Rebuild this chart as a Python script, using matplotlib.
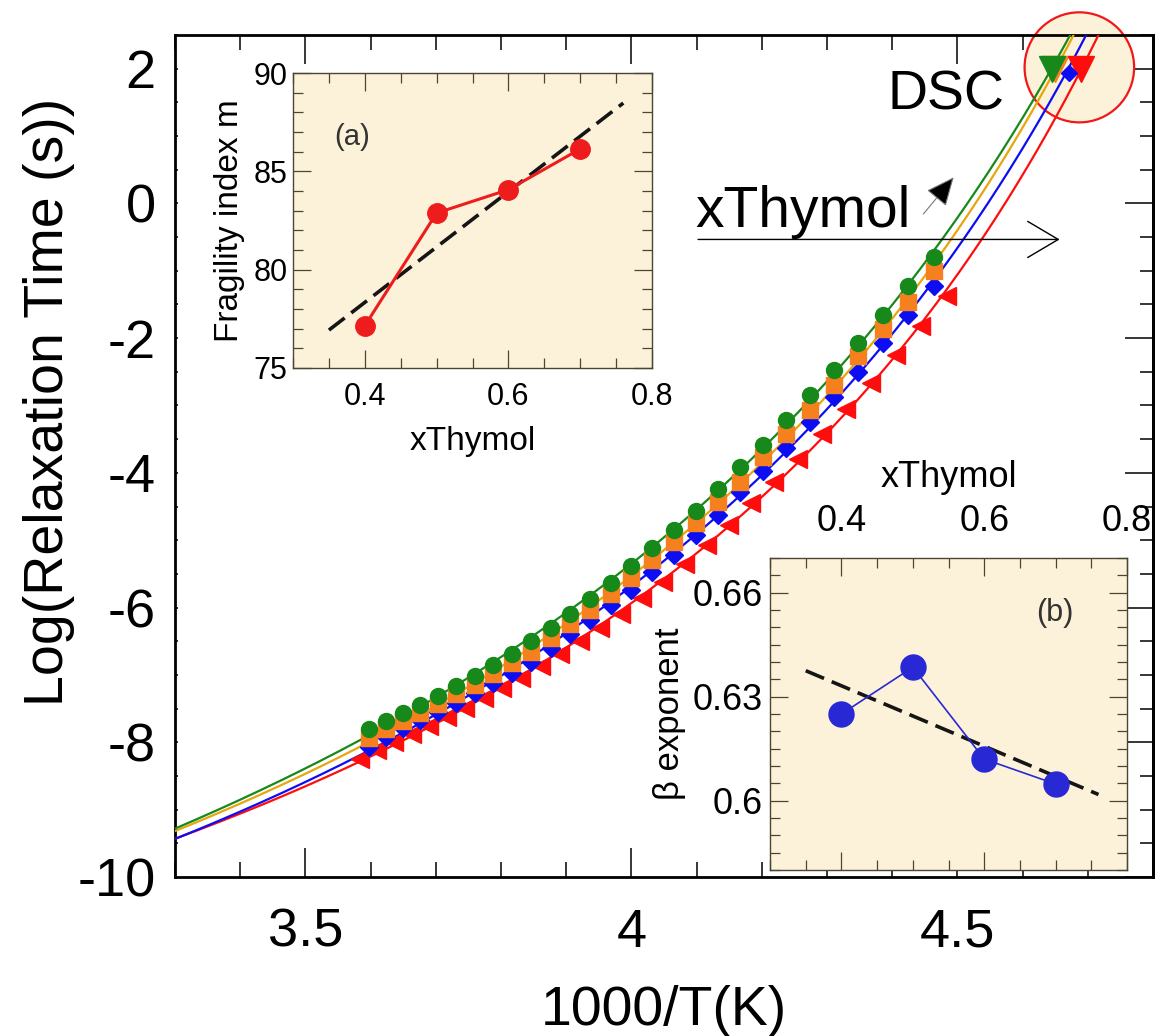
import numpy as np
import matplotlib
matplotlib.use("Agg")
import matplotlib.pyplot as plt
from matplotlib.ticker import MultipleLocator, FuncFormatter
from matplotlib.patches import Ellipse

plt.rcParams['font.family'] = ['Liberation Sans', 'DejaVu Sans']
plt.rcParams['axes.unicode_minus'] = False

# dielectric relaxation times, log10(tau/s), measured every 2 K
T_even = np.arange(278, 222, -2)
T_odd = np.arange(279, 221, -2)

logtau_green = [-7.80, -7.68, -7.56, -7.44, -7.31, -7.17, -7.02, -6.86, -6.69, -6.50,
                -6.30, -6.09, -5.87, -5.63, -5.38, -5.12, -4.85, -4.56, -4.24, -3.92,
                -3.58, -3.22, -2.85, -2.47, -2.07, -1.65, -1.23, -0.79]
logtau_orange = [-7.93, -7.80, -7.68, -7.56, -7.43, -7.29, -7.15, -6.99, -6.83, -6.66,
                 -6.45, -6.25, -6.03, -5.80, -5.56, -5.30, -5.03, -4.75, -4.44, -4.13,
                 -3.77, -3.43, -3.06, -2.69, -2.27, -1.87, -1.46, -1.01]
logtau_blue = [-8.07, -7.92, -7.79, -7.67, -7.55, -7.41, -7.27, -7.12, -6.97, -6.81,
               -6.60, -6.40, -6.18, -5.96, -5.74, -5.47, -5.22, -4.92, -4.62, -4.29,
               -3.98, -3.63, -3.25, -2.88, -2.50, -2.07, -1.65, -1.23]
logtau_red = [-8.25, -8.12, -8.00, -7.88, -7.76, -7.63, -7.49, -7.35, -7.20, -7.04,
              -6.87, -6.69, -6.50, -6.30, -6.09, -5.86, -5.62, -5.36, -5.07, -4.77,
              -4.45, -4.13, -3.79, -3.43, -3.05, -2.66, -2.25, -1.82, -1.37]

# DSC glass transitions (tau = 100 s), as 1000/Tg
dsc_green = 4.645
dsc_orange = 4.650
dsc_blue = 4.671
dsc_red = 4.690

# insets
x_thymol = [0.4, 0.5, 0.6, 0.7]
fragility = [77.15, 82.88, 84.07, 86.14]
beta = [0.625, 0.6385, 0.612, 0.6048]


def vft_fit(T, logt):
    best = None
    for T0 in np.arange(100.0, T.min() - 5, 0.1):
        X = np.column_stack([np.ones_like(T), 1.0 / (T - T0)])
        coef = np.linalg.lstsq(X, logt, rcond=None)[0]
        r = np.sum((X @ coef - logt) ** 2)
        if best is None or r < best[0]:
            best = (r, T0, coef)
    return best[1], best[2]


fig = plt.figure(figsize=(11.55, 10.36), dpi=100)
ax = fig.add_axes([0.1515, 0.1535, 0.8468, 0.8127])

series = [
    (T_odd, logtau_red, dsc_red, '#FF0D0D', '#FF0D0D', '<', 13),
    (T_even, logtau_blue, dsc_blue, '#0D0DF2', '#0D0DF2', 'D', 9),
    (T_even, logtau_orange, dsc_orange, '#E8A50C', '#F7801E', 's', 11),
    (T_even, logtau_green, dsc_green, '#16891A', '#16891A', 'o', 11.5),
]

xx = np.linspace(3.3, 4.8, 600)
for T, lt, tg, lc, mc, mk, ms in series:
    Tall = np.append(T.astype(float), 1000.0 / tg)
    ltall = np.append(np.array(lt), 2.0)
    T0, (A, B) = vft_fit(Tall, ltall)
    ax.plot(xx, A + B / (1000.0 / xx - T0), color=lc, lw=1.6, zorder=3)
    ax.plot(1000.0 / T, lt, ls='none', marker=mk, ms=ms, color=mc, mec=mc, zorder=4)

# DSC points inside the highlight circle
circ = Ellipse((4.687, 2.02), 0.168, 1.634, fc='#FCF2D9', ec='#F01818', lw=1.6,
               clip_on=False, zorder=2)
ax.add_patch(circ)
ax.plot([dsc_orange], [2.0], 'v', ms=19, color='#F7801E', zorder=5, clip_on=False)
ax.plot([dsc_green], [2.0], 'v', ms=19, color='#16891A', zorder=5, clip_on=False)
ax.plot([dsc_red], [2.0], 'v', ms=19, color='#FF0D0D', zorder=5, clip_on=False)
ax.plot([dsc_blue], [1.93], 'D', ms=8, color='#0D0DF2', zorder=5, clip_on=False)
ax.text(4.393, 1.40, 'DSC', fontsize=40, ha='left', va='baseline')

ax.text(4.098, -0.35, 'xThymol', fontsize=41, ha='left', va='baseline')
ax.annotate('', xy=(4.661, -0.535), xytext=(4.098, -0.535),
            arrowprops=dict(arrowstyle='->,head_length=1.1,head_width=0.65',
                            lw=1.0, color='k', mutation_scale=20))
ax.annotate('', xy=(4.497, 0.42), xytext=(4.445, -0.19),
            arrowprops=dict(arrowstyle='-|>,head_length=0.9,head_width=0.4',
                            lw=0.8, fc='k', ec='#777777', mutation_scale=20))

ax.set_xlim(3.3, 4.8)
ax.set_ylim(-10, 2.5)
ax.xaxis.set_major_locator(MultipleLocator(0.5))
ax.xaxis.set_minor_locator(MultipleLocator(0.1))
ax.yaxis.set_major_locator(MultipleLocator(2))
ax.yaxis.set_minor_locator(MultipleLocator(0.5))
ax.xaxis.set_major_formatter(FuncFormatter(lambda v, p: '%g' % v))
ax.tick_params(axis='x', which='major', direction='in', top=True, length=21, width=1.1,
               labelsize=39, pad=22)
ax.tick_params(axis='x', which='minor', direction='in', top=True, length=10.5, width=1.1)
ax.tick_params(axis='y', which='both', direction='in', right=False, length=2.5, width=1.1,
               labelsize=39, pad=14)
for s in ax.spines.values():
    s.set_linewidth(2.0)

sec = ax.secondary_yaxis('right')
sec.yaxis.set_major_locator(MultipleLocator(2))
sec.yaxis.set_minor_locator(MultipleLocator(0.5))
sec.tick_params(which='major', direction='in', length=20, width=1.1, labelright=False)
sec.tick_params(which='minor', direction='in', length=9.5, width=1.1)
sec.spines['right'].set_linewidth(2.0)

ax.set_xlabel('1000/T(K)', fontsize=40, labelpad=20)
ax.set_ylabel('Log(Relaxation Time (s))', fontsize=40)
ax.yaxis.set_label_coords(-0.102, 0.564)

inset_bg = '#FCF2D9'
frame_col = '#4A4535'
xfit = np.array([0.35, 0.76])


def style_inset(a, size):
    a.set_facecolor(inset_bg)
    for s in a.spines.values():
        s.set_color(frame_col)
        s.set_linewidth(1.0)
    a.tick_params(which='both', direction='in', top=True, right=True, color=frame_col,
                  width=0.9, labelsize=size)
    a.tick_params(which='major', length=13)
    a.tick_params(which='minor', length=7)


# inset (a): fragility index
axa = fig.add_axes([0.2537, 0.6448, 0.3108, 0.2847])
style_inset(axa, 22)
pa = np.polyfit(x_thymol, fragility, 1)
axa.plot(xfit, np.polyval(pa, xfit), color='#151515', lw=2.6, dashes=(5.5, 2.3))
axa.plot(x_thymol, fragility, '-o', color='#EE1C1C', lw=2.2, ms=14)
axa.set_xlim(0.3, 0.8)
axa.set_ylim(75, 90)
axa.xaxis.set_major_locator(MultipleLocator(0.2))
axa.xaxis.set_minor_locator(MultipleLocator(0.05))
axa.yaxis.set_major_locator(MultipleLocator(5))
axa.yaxis.set_minor_locator(MultipleLocator(1))
axa.xaxis.set_major_formatter(FuncFormatter(lambda v, p: '%g' % round(v, 2)))
axa.tick_params(axis='x', pad=10)
axa.tick_params(axis='y', pad=4)
axa.set_xlabel('xThymol', fontsize=24, labelpad=10)
axa.set_ylabel('Fragility index m', fontsize=24, labelpad=6)
axa.text(0.382, 86.75, '(a)', fontsize=21, color='#333333', ha='center', va='center')

# inset (b): stretching exponent
axb = fig.add_axes([0.6667, 0.1602, 0.3091, 0.3012])
style_inset(axb, 26)
pb = np.polyfit(x_thymol, beta, 1)
axb.plot(xfit, np.polyval(pb, xfit), color='#151515', lw=2.6, dashes=(5.5, 2.3))
axb.plot(x_thymol, beta, '-o', color='#2828D4', lw=1.2, ms=18)
axb.set_xlim(0.3, 0.8)
axb.set_ylim(0.58, 0.67)
axb.xaxis.set_major_locator(MultipleLocator(0.2))
axb.xaxis.set_minor_locator(MultipleLocator(0.05))
axb.yaxis.set_major_locator(MultipleLocator(0.03))
axb.yaxis.set_minor_locator(MultipleLocator(0.005))
axb.xaxis.set_major_formatter(FuncFormatter(lambda v, p: '%g' % round(v, 2)))
axb.yaxis.set_major_formatter(FuncFormatter(lambda v, p: '%g' % round(v, 3)))
axb.tick_params(axis='x', labelbottom=False, labeltop=True, pad=14)
axb.tick_params(axis='y', pad=5)
axb.xaxis.set_label_position('top')
axb.set_xlabel('xThymol', fontsize=26, labelpad=12)
axb.set_ylabel('β exponent', fontsize=25, labelpad=5)
axb.text(0.699, 0.654, '(b)', fontsize=22, color='#333333', ha='center', va='center')

fig.savefig('out.png', dpi=100)
